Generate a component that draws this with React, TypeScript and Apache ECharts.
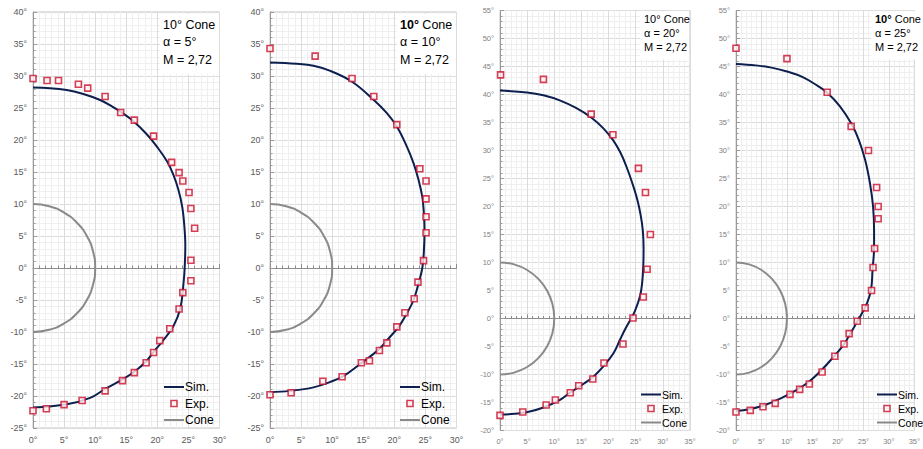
import React, { useEffect, useRef } from "react";
import * as echarts from "echarts";

// Half-circle outline of the 10° cone (same in every panel)
const coneArc: number[][] = [
  [0, 10], [2.59, 9.66], [5, 8.66], [7.07, 7.07], [8.66, 5], [9.66, 2.59], [10, 0],
  [9.66, -2.59], [8.66, -5], [7.07, -7.07], [5, -8.66], [2.59, -9.66], [0, -10],
];

// α = 5°
const sim5: number[][] = [
  [0, 28.2], [2.74, 28.1], [5.43, 27.8], [8.1, 27.2], [10.8, 26.25], [12.96, 25.1], [14.1, 24.4],
  [16.2, 22.9], [18.3, 20.9], [19.9, 19.0], [21.6, 16.6], [22.6, 14.5], [23.4, 12.2], [24.0, 9.6],
  [24.35, 6.5], [24.5, 3.5], [24.4, 0], [24.2, -2.5], [23.7, -6.3], [22.6, -9.06], [21.0, -11.25],
  [19.4, -13.1], [18.2, -14.6], [16.3, -16.2], [14.4, -17.4], [11.6, -18.9], [9.19, -20.3],
  [5.43, -21.3], [0, -21.8],
];
const exp5: number[][] = [
  [0, 29.6], [2.26, 29.3], [4.1, 29.3], [7.3, 28.7], [8.8, 28.1], [11.6, 26.8], [14.1, 24.3],
  [16.3, 23.1], [19.4, 20.6], [22.3, 16.5], [23.5, 14.9], [24.1, 13.6], [25.1, 11.8], [25.4, 9.3],
  [26.0, 6.2], [25.4, 1.2], [25.4, -2.0], [24.1, -3.85], [23.5, -6.4], [22.0, -9.5], [20.4, -11.35],
  [19.4, -13.2], [18.2, -14.8], [16.3, -16.35], [14.4, -17.6], [11.6, -19.2], [7.9, -20.7],
  [5.0, -21.35], [2.15, -22.0], [0, -22.3],
];

// α = 10°
const sim10: number[][] = [
  [0, 32.1], [4.3, 31.9], [7.0, 31.6], [9.7, 30.8], [13.2, 29.1], [16.7, 26.25], [18.8, 24.2],
  [20.4, 22.1], [22.0, 19.0], [23.1, 16.35], [23.9, 13.75], [24.5, 11.1], [24.75, 8.5], [24.85, 5.9],
  [24.75, 2.6], [24.5, 0], [23.9, -2.4], [23.1, -5.0], [22.0, -7.1], [20.7, -9.2], [19.35, -10.7],
  [17.7, -12.55], [16.1, -13.85], [14.5, -15.0], [11.8, -16.9], [9.7, -17.8], [7.0, -18.65],
  [3.2, -19.2], [0, -19.4],
];
const exp10: number[][] = [
  [0, 34.3], [7.26, 33.1], [13.2, 29.6], [16.7, 26.8], [20.4, 22.4], [24.1, 15.5], [25.1, 13.6],
  [25.1, 10.8], [25.1, 8.0], [25.1, 5.5], [24.7, 1.15], [23.8, -2.2], [23.2, -4.8], [21.7, -7.0],
  [20.4, -9.2], [18.8, -11.7], [17.6, -12.9], [16.0, -14.5], [14.7, -14.8], [11.6, -17.0],
  [8.5, -17.7], [3.4, -19.5], [0, -19.8],
];

// α = 20°
const sim20: number[][] = [
  [0, 40.7], [5.0, 40.35], [8.0, 39.85], [11.0, 38.95], [14.0, 37.6], [16.8, 35.9], [19.0, 34.0],
  [20.8, 31.9], [22.2, 29.6], [23.3, 27.1], [24.4, 24.1], [25.3, 21.2], [25.9, 18.5], [26.3, 15.8],
  [26.45, 12.5], [26.4, 9.5], [26.2, 6.5], [25.8, 4.0], [24.85, 1.3], [24.15, 0], [23.0, -2.0],
  [22.1, -3.8], [20.9, -6.2], [19.0, -8.6], [17.2, -10.4], [15.35, -11.7], [12.9, -13.25],
  [11.05, -14.55], [8.0, -15.9], [4.9, -16.75], [0, -17.2],
];
const exp20: number[][] = [
  [0.1, 43.5], [8.0, 42.7], [16.8, 36.5], [20.8, 32.8], [25.5, 26.8], [26.8, 22.5], [27.7, 15.0],
  [27.1, 8.8], [26.4, 3.85], [24.5, 0.1], [22.65, -4.55], [19.15, -7.95], [17.1, -10.8],
  [14.5, -12.0], [12.95, -13.25], [10.2, -14.55], [8.5, -15.45], [4.2, -16.7], [0, -17.3],
];

// α = 25°
const sim25: number[][] = [
  [0, 45.45], [3.87, 45.2], [6.94, 44.8], [10.0, 44.1], [13.1, 43.1], [16.1, 41.5], [17.9, 40.3],
  [20.4, 37.9], [22.6, 34.85], [24.1, 31.9], [25.35, 28.3], [26.3, 24.1], [26.9, 20.0],
  [27.1, 15.8], [27.1, 12.8], [26.8, 8.7], [26.5, 5.1], [25.7, 2.7], [24.7, 0.9], [23.6, -0.86],
  [22.3, -2.9], [21.1, -4.7], [19.2, -6.8], [16.8, -9.2], [14.3, -11.3], [11.85, -12.8],
  [8.8, -14.25], [5.7, -15.45], [2.6, -16.2], [0, -16.5],
];
const exp25: number[][] = [
  [0, 48.25], [10.0, 46.4], [17.9, 40.4], [22.6, 34.3], [26.0, 30.0], [27.6, 23.4], [27.9, 20.0],
  [27.9, 17.8], [27.2, 12.5], [26.9, 9.1], [26.6, 5.0], [25.35, 1.9], [23.8, -0.5], [22.2, -2.7],
  [21.2, -4.55], [19.4, -6.75], [16.9, -9.55], [14.4, -11.7], [12.5, -12.65], [10.6, -13.55],
  [7.7, -15.15], [5.3, -15.75], [2.8, -16.4], [0, -16.7],
];

const alphaLabels = ["α = 5°", "α = 10°", "α = 20°", "α = 25°"];
const machLabel = "M = 2,72";
const coneLabel = "10° Cone";
const seriesNames = ["Sim.", "Exp.", "Cone"];

const SIM_COLOR = "#0d1f4f";
const EXP_COLOR = "#c8102e";
const EXP_FILL = "#fff3f3";
const CONE_COLOR = "#8a8a8a";
const FONT = "Liberation Sans";
const LINE_ICON = "path://M0,0H20V2H0Z";
const SQUARE_ICON = "path://M0,0H6V6H0Z";

type Panel = {
  sim: number[][];
  exp: number[][];
  xMax: number;
  yMin: number;
  yMax: number;
  boldTen: boolean;
  grid: { left: number; top: number; width: number; height: number };
  tickFont: number;
  tickColor: string;
  textFont: number;
  textX: number;
  textY: number[];
  boxX: number;
  boxY: number;
  boxW: number;
  boxH: number;
  legendLeft: number;
  legendTop: number;
  legendFont: number;
  legendGap: number;
};

const panels: Panel[] = [
  {
    sim: sim5, exp: exp5, xMax: 30, yMin: -25, yMax: 40, boldTen: false,
    grid: { left: 33, top: 12, width: 186.5, height: 416 },
    tickFont: 9, tickColor: "#595959",
    textFont: 12.5, textX: 163, textY: [18, 35.5, 53], boxX: 160, boxY: 14, boxW: 59, boxH: 60,
    legendLeft: 164, legendTop: 381, legendFont: 12, legendGap: 4.5,
  },
  {
    sim: sim10, exp: exp10, xMax: 30, yMin: -25, yMax: 40, boldTen: true,
    grid: { left: 270, top: 12, width: 186.5, height: 416 },
    tickFont: 9, tickColor: "#595959",
    textFont: 12.5, textX: 400, textY: [18, 35.5, 53], boxX: 397, boxY: 14, boxW: 59, boxH: 60,
    legendLeft: 400, legendTop: 381, legendFont: 12, legendGap: 4.5,
  },
  {
    sim: sim20, exp: exp20, xMax: 35, yMin: -20, yMax: 55, boldTen: false,
    grid: { left: 500, top: 10.5, width: 190, height: 420 },
    tickFont: 7.5, tickColor: "#7f7f7f",
    textFont: 11, textX: 644, textY: [13, 27, 41], boxX: 640, boxY: 11.5, boxW: 49, boxH: 48,
    legendLeft: 641, legendTop: 389, legendFont: 10.5, legendGap: 3,
  },
  {
    sim: sim25, exp: exp25, xMax: 35, yMin: -20, yMax: 55, boldTen: true,
    grid: { left: 736, top: 10.5, width: 190, height: 420 },
    tickFont: 7.5, tickColor: "#7f7f7f",
    textFont: 11, textX: 875, textY: [13, 27, 41], boxX: 871, boxY: 11.5, boxW: 54, boxH: 48,
    legendLeft: 877, legendTop: 389, legendFont: 10.5, legendGap: 3,
  },
];

function buildOption() {
  const grid: any[] = [];
  const xAxis: any[] = [];
  const yAxis: any[] = [];
  const series: any[] = [];
  const legend: any[] = [];
  const graphic: any[] = [];

  panels.forEach((p, i) => {
    grid.push({ ...p.grid, show: true, borderColor: "#c4c4c4", borderWidth: 1, backgroundColor: "#fff" });

    const label = {
      formatter: "{value}°",
      fontSize: p.tickFont,
      color: p.tickColor,
      fontFamily: FONT,
    };
    const splitLine = { show: true, lineStyle: { color: "#dcdcdc", width: 1 } };
    const minorSplitLine = { show: true, lineStyle: { color: "#efefef", width: 1 } };

    // bottom axis: tick labels and vertical grid lines
    xAxis.push({
      type: "value", gridIndex: i, min: 0, max: p.xMax, interval: 5, position: "bottom",
      axisLine: { show: false, onZero: false },
      axisTick: { show: false },
      minorTick: { show: false, splitNumber: 5 },
      axisLabel: { ...label, margin: 7 },
      splitLine, minorSplitLine,
    });
    // horizontal axis line running through 0°
    xAxis.push({
      type: "value", gridIndex: i, min: 0, max: p.xMax, interval: 5, position: "top",
      axisLine: { show: true, onZero: true, lineStyle: { color: "#8c8c8c", width: 1 } },
      axisTick: { show: true, inside: false, length: 4, lineStyle: { color: "#8c8c8c" } },
      minorTick: { show: true, splitNumber: 5, length: 2.5, lineStyle: { color: "#8c8c8c" } },
      axisLabel: { show: false },
      splitLine: { show: false },
      minorSplitLine: { show: false },
    });
    yAxis.push({
      type: "value", gridIndex: i, min: p.yMin, max: p.yMax, interval: 5,
      axisLine: { show: true, onZero: false, lineStyle: { color: "#9a9a9a", width: 1 } },
      axisTick: { show: true, inside: true, length: 4, lineStyle: { color: "#9a9a9a" } },
      minorTick: { show: true, splitNumber: 5, length: 2.5, lineStyle: { color: "#9a9a9a" } },
      axisLabel: { ...label, margin: 6 },
      splitLine, minorSplitLine,
    });

    series.push({
      name: "Cone", type: "line", xAxisIndex: 2 * i, yAxisIndex: i, data: coneArc,
      smooth: 0.5, symbol: "none", lineStyle: { color: CONE_COLOR, width: 2 }, itemStyle: { color: CONE_COLOR },
      z: 2,
    });
    series.push({
      name: "Sim.", type: "line", xAxisIndex: 2 * i, yAxisIndex: i, data: p.sim,
      smooth: 0.4, symbol: "none", lineStyle: { color: SIM_COLOR, width: 2 }, itemStyle: { color: SIM_COLOR },
      z: 3,
    });
    series.push({
      name: "Exp.", type: "scatter", xAxisIndex: 2 * i, yAxisIndex: i, data: p.exp,
      symbol: "rect", symbolSize: 6,
      itemStyle: { color: EXP_FILL, borderColor: EXP_COLOR, borderWidth: 1.6 },
      z: 4,
    });

    legend.push({
      orient: "vertical", left: p.legendLeft, top: p.legendTop,
      itemWidth: 20, itemHeight: 6, itemGap: p.legendGap, padding: 0,
      selectedMode: false, symbolKeepAspect: true,
      textStyle: { fontSize: p.legendFont, fontFamily: FONT, color: "#000", padding: [0, 0, 0, -4] },
      data: [
        { name: seriesNames[0], icon: LINE_ICON, itemStyle: { color: SIM_COLOR, borderWidth: 0 } },
        { name: seriesNames[1], icon: SQUARE_ICON, itemStyle: { color: EXP_FILL, borderColor: EXP_COLOR, borderWidth: 1.6 } },
        { name: seriesNames[2], icon: LINE_ICON, itemStyle: { color: CONE_COLOR, borderWidth: 0 } },
      ],
    });

    const textStyle = (t: string, y: number, rich?: any) => ({
      type: "text", left: p.textX, top: y, z: 10,
      style: { text: t, fontSize: p.textFont, fontFamily: FONT, fill: "#000", rich },
    });
    graphic.push({
      type: "rect", left: p.boxX, top: p.boxY, z: 9,
      shape: { width: p.boxW, height: p.boxH }, style: { fill: "#fff" },
    });
    graphic.push(
      p.boldTen
        ? textStyle("{b|10°} Cone", p.textY[0], { b: { fontWeight: "bold", fontSize: p.textFont, fontFamily: FONT } })
        : textStyle(coneLabel, p.textY[0])
    );
    graphic.push(textStyle(alphaLabels[i], p.textY[1]));
    graphic.push(textStyle(machLabel, p.textY[2]));
  });

  return {
    animation: false,
    backgroundColor: "#fff",
    textStyle: { fontFamily: FONT },
    grid, xAxis, yAxis, series, legend, graphic,
  };
}

export default function App() {
  const ref = useRef<HTMLDivElement>(null);
  useEffect(() => {
    if (!ref.current) return;
    const chart = echarts.init(ref.current, undefined, { renderer: "svg" });
    chart.setOption(buildOption() as any);
    return () => chart.dispose();
  }, []);
  return (
    <div
      ref={ref}
      style={{ position: "fixed", left: 0, top: 0, width: 923, height: 449, background: "#fff" }}
    />
  );
}
